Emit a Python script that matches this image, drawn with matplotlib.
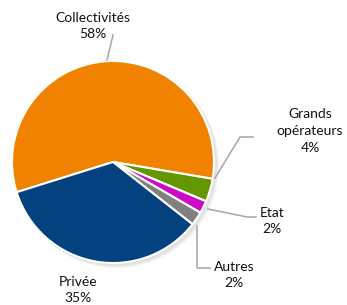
import matplotlib
matplotlib.use("Agg")
import matplotlib.pyplot as plt

categories = ["Collectivités", "Grands\nopérateurs", "Etat", "Autres", "Privée"]
values = [57.5, 3.7, 2.0, 2.2, 34.6]
pct_labels = ["58%", "4%", "2%", "2%", "35%"]
colors = ["#F08200", "#649600", "#CC0CC4", "#808080", "#03427F"]

W, H = 347, 305
fig = plt.figure(figsize=(W / 100, H / 100), dpi=100)
ax = fig.add_axes([0, 0, 1, 1])

cx, cy, r = 113, H - 162, 101

# soft shadow
from matplotlib.patches import Circle
for i, a in enumerate([0.04, 0.04, 0.04]):
    ax.add_patch(Circle((cx + 2 + i, cy - 2 - i), r + 1, color="black", alpha=a, lw=0, zorder=0))

ax.pie(values, colors=colors, startangle=197.4, counterclock=False,
       center=(cx, cy), radius=r, frame=True,
       wedgeprops=dict(edgecolor="white", linewidth=1.5, zorder=2))

ax.set_xlim(0, W)
ax.set_ylim(0, H)
ax.set_aspect("equal")
ax.axis("off")

font = "Lato"
fs = 10
tc = "#111111"
lc = "#a6a6a6"
ls = 1.45

def Y(y):
    return H - y

# labels
ax.text(93, Y(26), categories[0] + "\n" + pct_labels[0], ha="center", va="center",
        fontsize=fs, family=font, color=tc, linespacing=ls)
ax.text(310, Y(131), categories[1] + "\n" + pct_labels[1], ha="center", va="center",
        fontsize=fs, family=font, color=tc, linespacing=ls)
ax.text(272, Y(221), categories[2] + "\n" + pct_labels[2], ha="center", va="center",
        fontsize=fs, family=font, color=tc, linespacing=ls)
ax.text(234, Y(275), categories[3] + "\n" + pct_labels[3], ha="center", va="center",
        fontsize=fs, family=font, color=tc, linespacing=ls)
ax.text(78, Y(290), categories[4] + "\n" + pct_labels[4], ha="center", va="center",
        fontsize=fs, family=font, color=tc, linespacing=ls)

# leader lines
ax.plot([107, 113], [Y(60), Y(35)], color=lc, lw=1.1, zorder=3)
ax.plot([215, 240, 253], [Y(178), Y(137), Y(137)], color=lc, lw=1.1, zorder=3)
ax.plot([208, 247, 256], [Y(209), Y(217), Y(217)], color=lc, lw=1.1, zorder=3)
ax.plot([197, 197, 210], [Y(226), Y(268), Y(268)], color=lc, lw=1.1, zorder=3)

fig.savefig("out.png", dpi=100)
